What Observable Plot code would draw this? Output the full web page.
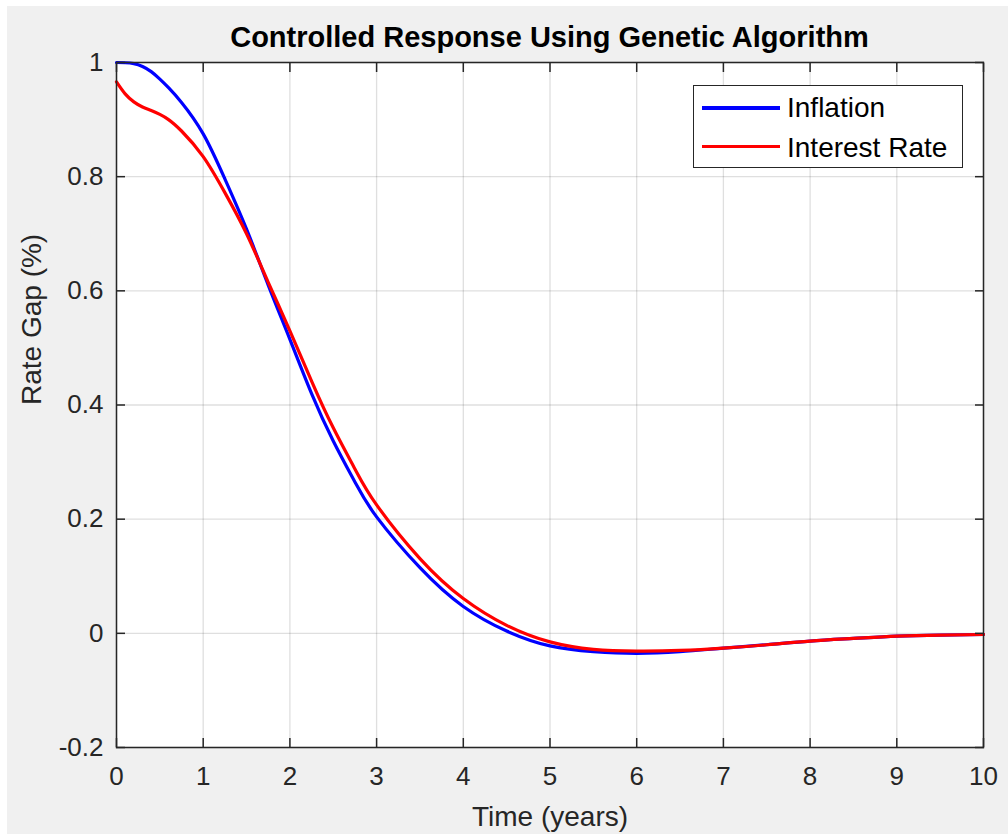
<!DOCTYPE html>
<html>
<head>
<meta charset="utf-8">
<script src="https://cdn.jsdelivr.net/npm/d3@7"></script>
<script src="https://cdn.jsdelivr.net/npm/@observablehq/plot@0.6"></script>
<style>
  html, body { margin: 0; padding: 0; background: #ffffff; }
  #fig { position: absolute; left: 7px; top: 6px; width: 1001px; height: 828px; background: #f0f0f0; overflow: hidden; }
  #title { position: absolute; left: 542.5px; top: 16.8px; transform: translateX(-50%); white-space: nowrap;
           font: bold 29px "Liberation Sans", Arial, Helvetica, sans-serif; line-height: 29px; color: #000; }
  #legend { position: absolute; left: 686px; top: 79px; width: 270px; height: 83px; box-sizing: border-box;
            border: 1.5px solid #262626; background: #ffffff; }
  .lg-line { position: absolute; left: 8px; width: 78px; height: 3.2px; }
  .lg-text { position: absolute; left: 93px; white-space: nowrap; font: 28px "Liberation Sans", Arial, Helvetica, sans-serif;
             line-height: 28px; color: #000; }
</style>
</head>
<body>
<div id="fig">
  <div id="chart"></div>
  <div id="title"></div>
  <div id="legend"></div>
</div>
<script>
// ---- data ----
const titleText = "Controlled Response Using Genetic Algorithm";
const xLabel = "Time (years)";
const yLabel = "Rate Gap (%)";
const seriesNames = ["Inflation", "Interest Rate"];
const seriesColors = ["#0000ff", "#ff0000"];

const time = [0, 0.1, 0.2, 0.3, 0.4, 0.5, 0.6, 0.75, 1.0, 1.25, 1.5, 1.75, 2.0, 2.25, 2.5, 2.75, 3.0, 3.5, 4.0, 4.5, 5, 5.5, 6, 6.5, 7, 7.5, 8, 8.5, 9, 9.5, 10];
const inflation = [1.0, 0.9996, 0.998, 0.993, 0.984, 0.971, 0.956, 0.93, 0.875, 0.796, 0.708, 0.61, 0.515, 0.42, 0.337, 0.265, 0.204, 0.115, 0.047, 0.004, -0.022, -0.032, -0.035, -0.032, -0.026, -0.02, -0.0135, -0.009, -0.005, -0.003, -0.002];
const interestRate = [0.966, 0.945, 0.931, 0.922, 0.916, 0.909, 0.9, 0.88, 0.835, 0.772, 0.7, 0.615, 0.53, 0.442, 0.36, 0.288, 0.225, 0.131, 0.061, 0.014, -0.015, -0.028, -0.031, -0.03, -0.026, -0.02, -0.0135, -0.009, -0.005, -0.003, -0.002];

const xTicks = [0, 1, 2, 3, 4, 5, 6, 7, 8, 9, 10];
const yTicks = [-0.2, 0, 0.2, 0.4, 0.6, 0.8, 1];
const yTickLabels = ["-0.2", "0", "0.2", "0.4", "0.6", "0.8", "1"];
const xTickLabels = ["0", "1", "2", "3", "4", "5", "6", "7", "8", "9", "10"];

// ---- build tables ----
const inflationData = time.map((t, i) => ({t, v: inflation[i]}));
const interestData = time.map((t, i) => ({t, v: interestRate[i]}));

const FONT = '"Liberation Sans", Arial, Helvetica, sans-serif';
const AX = "#262626";
const gridStyle = {stroke: AX, strokeOpacity: 0.15, strokeWidth: 1.3};

const chart = Plot.plot({
  width: 1001,
  height: 828,
  marginLeft: 109,
  marginRight: 25,
  marginTop: 56,
  marginBottom: 87,
  style: {background: "transparent", fontFamily: FONT, fontSize: "26px", color: AX, overflow: "visible"},
  x: {domain: [0, 10], ticks: xTicks},
  y: {domain: [-0.2, 1], ticks: yTicks},
  marks: [
    Plot.frame({fill: "white", stroke: null}),
    Plot.gridX(xTicks, gridStyle),
    Plot.gridY(yTicks, gridStyle),
    Plot.line(inflationData, {x: "t", y: "v", stroke: seriesColors[0], strokeWidth: 3.2, curve: "natural"}),
    Plot.line(interestData, {x: "t", y: "v", stroke: seriesColors[1], strokeWidth: 3.2, curve: "natural"}),
    Plot.frame({stroke: AX, strokeWidth: 1.5}),
    // tick labels
    Plot.axisX(xTicks, {anchor: "bottom", tickSize: 0, tickPadding: 19.5, label: null, fontSize: 26,
      tickFormat: d => xTickLabels[xTicks.indexOf(d)]}),
    Plot.axisY(yTicks, {anchor: "left", tickSize: 0, tickPadding: 13, label: null, fontSize: 26,
      tickFormat: d => yTickLabels[yTicks.indexOf(d)]}),
    // inward tick marks on all four sides
    Plot.axisX(xTicks, {anchor: "bottom", tickSize: -9, tickFormat: () => "", label: null, stroke: AX, strokeWidth: 1.5}),
    Plot.axisX(xTicks, {anchor: "top", tickSize: -9, tickFormat: () => "", label: null, stroke: AX, strokeWidth: 1.5}),
    Plot.axisY(yTicks, {anchor: "left", tickSize: -9, tickFormat: () => "", label: null, stroke: AX, strokeWidth: 1.5}),
    Plot.axisY(yTicks, {anchor: "right", tickSize: -9, tickFormat: () => "", label: null, stroke: AX, strokeWidth: 1.5}),
    // axis titles
    Plot.text([xLabel], {frameAnchor: "bottom", dy: 69.4, fontSize: 28, lineAnchor: "middle", fill: AX}),
    Plot.text([yLabel], {frameAnchor: "left", rotate: -90, dx: -84, fontSize: 28, lineAnchor: "middle", fill: AX})
  ]
});
document.getElementById("chart").appendChild(chart);

document.getElementById("title").textContent = titleText;

const legend = document.getElementById("legend");
const lineTops = [20.4, 58.6];
const textTops = [7.5, 48.3];
seriesNames.forEach((name, i) => {
  const ln = document.createElement("div");
  ln.className = "lg-line";
  ln.style.top = lineTops[i] + "px";
  ln.style.background = seriesColors[i];
  legend.appendChild(ln);
  const tx = document.createElement("div");
  tx.className = "lg-text";
  tx.style.top = textTops[i] + "px";
  tx.textContent = name;
  legend.appendChild(tx);
});
</script>
</body>
</html>
